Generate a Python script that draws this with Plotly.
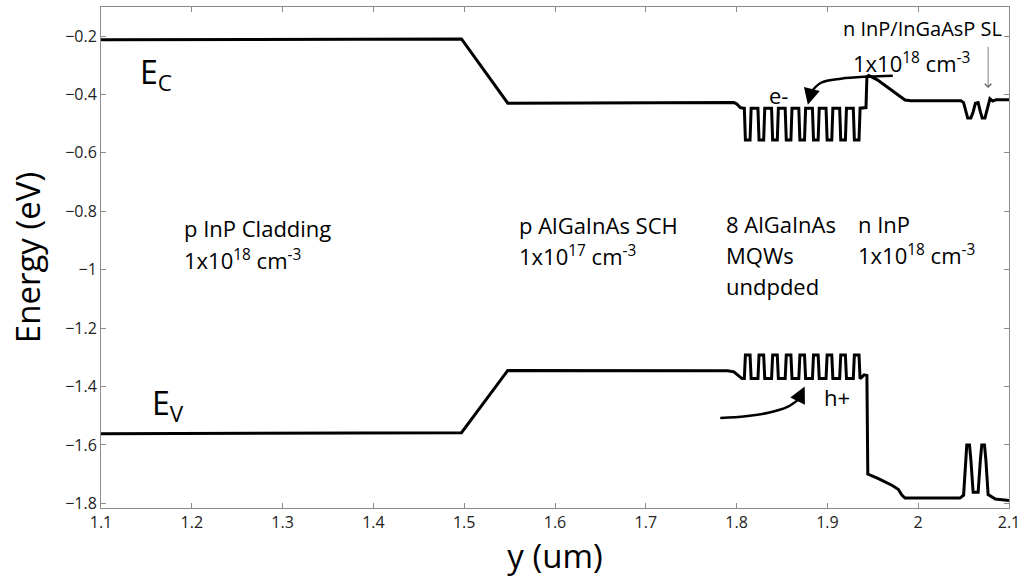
import plotly.graph_objects as go

# ---------------- data ----------------
# Conduction band edge (eV) vs position y (um)
cb_x = [1.100, 1.497, 1.548, 1.790, 1.797, 1.800, 1.804, 1.8075,
        1.8085, 1.8097, 1.8148, 1.8160,
        1.8235, 1.8247, 1.8298, 1.8310,
        1.8385, 1.8397, 1.8448, 1.8460,
        1.8535, 1.8547, 1.8598, 1.8610,
        1.8685, 1.8697, 1.8748, 1.8760,
        1.8835, 1.8847, 1.8898, 1.8910,
        1.8985, 1.8997, 1.9048, 1.9060,
        1.9135, 1.9147, 1.9198, 1.9210,
        1.9285, 1.9297, 1.9348, 1.9360,
        1.9400, 1.9425, 1.9435, 1.9455, 1.9550, 1.9656, 1.9750, 1.9800, 1.9855,
        1.9920, 2.0470, 2.0500, 2.0530, 2.0545, 2.0580, 2.0605, 2.0630, 2.0660,
        2.0685, 2.0705, 2.0735, 2.0765, 2.0790, 2.0820, 2.0860, 2.1000]
cb_y = [-0.213, -0.210, -0.430, -0.430, -0.428, -0.432, -0.445, -0.447,
        -0.447, -0.556, -0.556, -0.447,
        -0.447, -0.556, -0.556, -0.447,
        -0.447, -0.556, -0.556, -0.447,
        -0.447, -0.556, -0.556, -0.447,
        -0.447, -0.556, -0.556, -0.447,
        -0.447, -0.556, -0.556, -0.447,
        -0.447, -0.556, -0.556, -0.447,
        -0.447, -0.556, -0.556, -0.447,
        -0.447, -0.556, -0.556, -0.447,
        -0.447, -0.445, -0.340, -0.335, -0.350, -0.375, -0.395, -0.409, -0.419,
        -0.422, -0.422, -0.428, -0.470, -0.481, -0.481, -0.460, -0.430, -0.428,
        -0.460, -0.481, -0.481, -0.440, -0.415, -0.423, -0.418, -0.418]

# Valence band edge (eV) vs position y (um)
vb_x = [1.100, 1.497, 1.548, 1.790, 1.797, 1.802, 1.806,
        1.8085, 1.8097, 1.8148, 1.8160,
        1.8235, 1.8247, 1.8298, 1.8310,
        1.8385, 1.8397, 1.8448, 1.8460,
        1.8535, 1.8547, 1.8598, 1.8610,
        1.8685, 1.8697, 1.8748, 1.8760,
        1.8835, 1.8847, 1.8898, 1.8910,
        1.8985, 1.8997, 1.9048, 1.9060,
        1.9135, 1.9147, 1.9198, 1.9210,
        1.9285, 1.9297, 1.9348, 1.9360,
        1.9380, 1.9405, 1.9435, 1.9445, 1.9550, 1.9650, 1.9710, 1.9780, 1.9820,
        1.9855, 2.0460, 2.0500, 2.0520, 2.0535, 2.0565, 2.0580, 2.0605, 2.0660,
        2.0685, 2.0700, 2.0730, 2.0745, 2.0770, 2.0850, 2.1000]
vb_y = [-1.562, -1.558, -1.345, -1.346, -1.350, -1.362, -1.373,
        -1.373, -1.292, -1.292, -1.373,
        -1.373, -1.292, -1.292, -1.373,
        -1.373, -1.292, -1.292, -1.373,
        -1.373, -1.292, -1.292, -1.373,
        -1.373, -1.292, -1.292, -1.373,
        -1.373, -1.292, -1.292, -1.373,
        -1.373, -1.292, -1.292, -1.373,
        -1.373, -1.292, -1.292, -1.373,
        -1.373, -1.292, -1.292, -1.373,
        -1.368, -1.360, -1.362, -1.700, -1.714, -1.728, -1.738, -1.752, -1.772,
        -1.782, -1.782, -1.772, -1.650, -1.600, -1.600, -1.650, -1.762, -1.762,
        -1.650, -1.600, -1.600, -1.650, -1.770, -1.785, -1.790]

# Carrier-injection arrows (curve points, data coords)
e_arc_x = [1.972, 1.945, 1.915, 1.893, 1.882]
e_arc_y = [-0.336, -0.339, -0.346, -0.360, -0.392]
e_tip = (1.8785, -0.435)
h_arc_x = [1.782, 1.810, 1.835, 1.856, 1.868]
h_arc_y = [-1.508, -1.502, -1.490, -1.470, -1.445]
h_tip = (1.875, -1.400)
sl_arrow_from = (2.077, -0.232)
sl_arrow_to = (2.077, -0.378)

# Text labels: text, x, y, anchor, size
DOPING_18 = "1x10<sup>18</sup> cm<sup>-3</sup>"
DOPING_17 = "1x10<sup>17</sup> cm<sup>-3</sup>"
layer_labels = [
    ("p InP Cladding", 1.190, -0.858, "left", 22),
    (DOPING_18, 1.190, -0.964, "left", 22),
    ("p AlGaInAs SCH", 1.559, -0.847, "left", 22),
    (DOPING_17, 1.559, -0.953, "left", 22),
    ("8 AlGaInAs", 1.787, -0.844, "left", 22),
    ("MQWs", 1.787, -0.949, "left", 22),
    ("undpded", 1.787, -1.055, "left", 22),
    ("n InP", 1.9326, -0.844, "left", 22),
    (DOPING_18, 1.9326, -0.949, "left", 22),
    ("n InP/InGaAsP SL", 2.093, -0.176, "right", 20),
    (DOPING_18, 1.927, -0.292, "left", 22),
]
band_labels = [("E<sub>C</sub>", 1.141, -0.33), ("E<sub>V</sub>", 1.154, -1.465)]
carrier_labels = [("e-", 1.8456, -0.402), ("h+", 1.9106, -1.436)]

FONT = "Open Sans"

fig = go.Figure()
fig.add_trace(go.Scatter(x=cb_x, y=cb_y, mode="lines",
                         line=dict(color="black", width=3), showlegend=False))
fig.add_trace(go.Scatter(x=vb_x, y=vb_y, mode="lines",
                         line=dict(color="black", width=3), showlegend=False))
fig.add_trace(go.Scatter(x=e_arc_x, y=e_arc_y, mode="lines", line_shape="spline",
                         line=dict(color="black", width=2.5), showlegend=False))
fig.add_trace(go.Scatter(x=h_arc_x, y=h_arc_y, mode="lines", line_shape="spline",
                         line=dict(color="black", width=2.5), showlegend=False))

# arrow heads
fig.add_annotation(x=e_tip[0], y=e_tip[1], ax=e_arc_x[-1], ay=e_arc_y[-1],
                   xref="x", yref="y", axref="x", ayref="y", text="",
                   showarrow=True, arrowhead=2, arrowsize=1.3, arrowwidth=2.5,
                   arrowcolor="black")
fig.add_annotation(x=h_tip[0], y=h_tip[1], ax=h_arc_x[-1], ay=h_arc_y[-1],
                   xref="x", yref="y", axref="x", ayref="y", text="",
                   showarrow=True, arrowhead=2, arrowsize=1.3, arrowwidth=2.5,
                   arrowcolor="black")
fig.add_annotation(x=sl_arrow_to[0], y=sl_arrow_to[1], ax=sl_arrow_from[0],
                   ay=sl_arrow_from[1], xref="x", yref="y", axref="x", ayref="y",
                   text="", showarrow=True, arrowhead=4, arrowsize=1.6,
                   arrowwidth=0.8, arrowcolor="#666666")

for t, x, y, anc, sz in layer_labels:
    fig.add_annotation(x=x, y=y, xref="x", yref="y", text=t, showarrow=False,
                       xanchor=anc, yanchor="middle", borderpad=0,
                       font=dict(family=FONT, size=sz, color="black"))
for t, x, y in band_labels:
    fig.add_annotation(x=x, y=y, xref="x", yref="y", text=t, showarrow=False,
                       xanchor="left", yanchor="middle",
                       font=dict(family=FONT, size=32, color="black"))
for t, x, y in carrier_labels:
    fig.add_annotation(x=x, y=y, xref="x", yref="y", text=t, showarrow=False,
                       xanchor="center", yanchor="middle",
                       font=dict(family=FONT, size=22, color="black"))

axis_common = dict(showline=True, linecolor="#8c8c8c", linewidth=1, mirror="ticks",
                   ticks="inside", ticklen=5, tickcolor="#8c8c8c", showgrid=False,
                   zeroline=False,
                   tickfont=dict(family=FONT, size=16, color="#222222"))

fig.update_layout(
    width=1026, height=583,
    margin=dict(l=101, r=17, t=7, b=75),
    paper_bgcolor="white", plot_bgcolor="white",
    xaxis=dict(range=[1.1, 2.1], tickvals=[1.1, 1.2, 1.3, 1.4, 1.5, 1.6, 1.7, 1.8, 1.9, 2.0, 2.1],
               ticktext=["1.1", "1.2", "1.3", "1.4", "1.5", "1.6", "1.7", "1.8", "1.9", "2", "2.1"],
               title=dict(text="y (um)", font=dict(family=FONT, size=33, color="black"), standoff=2),
               **axis_common),
    yaxis=dict(range=[-1.816, -0.1007], tickvals=[-1.8, -1.6, -1.4, -1.2, -1.0, -0.8, -0.6, -0.4, -0.2],
               ticktext=["\u22121.8", "\u22121.6", "\u22121.4", "\u22121.2", "\u22121",
                         "\u22120.8", "\u22120.6", "\u22120.4", "\u22120.2"],
               title=dict(text="Energy (eV)", font=dict(family=FONT, size=33, color="black"), standoff=14),
               **axis_common),
)

fig.write_html("out.html")
